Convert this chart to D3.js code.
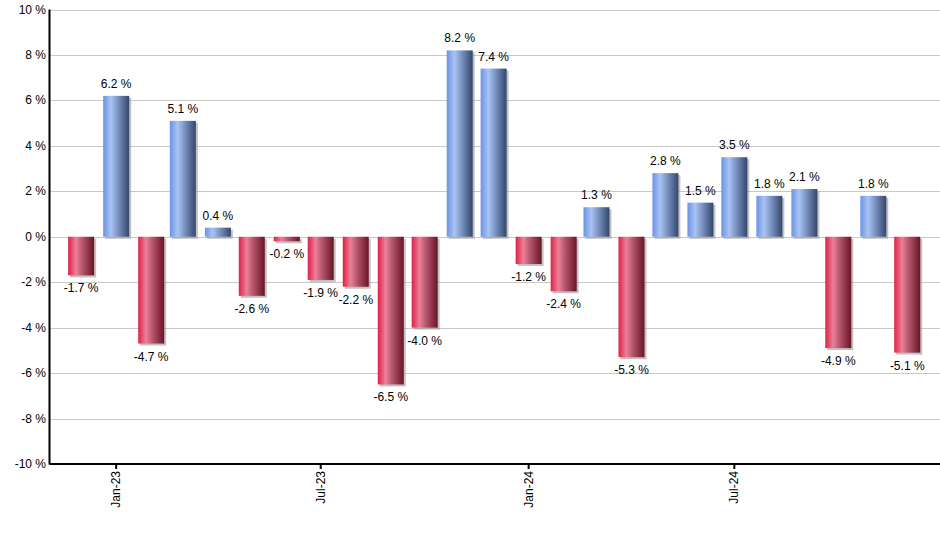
<!DOCTYPE html>
<html><head><meta charset="utf-8">
<script src="https://cdn.jsdelivr.net/npm/d3@7"></script>
<style>body{margin:0;background:#fff;} text{font-family:"Liberation Sans",Arial,sans-serif;}</style>
</head><body>
<svg id="c" width="940" height="550"></svg>
<script>
const months = ["2022-12","2023-01","2023-02","2023-03","2023-04","2023-05","2023-06","2023-07","2023-08","2023-09","2023-10","2023-11","2023-12","2024-01","2024-02","2024-03","2024-04","2024-05","2024-06","2024-07","2024-08","2024-09","2024-10","2024-11","2024-12"];
const values = [-1.7,6.2,-4.7,5.1,0.4,-2.6,-0.2,-1.9,-2.2,-6.5,-4.0,8.2,7.4,-1.2,-2.4,1.3,-5.3,2.8,1.5,3.5,1.8,2.1,-4.9,1.8,-5.1];
const yTicks = [-10,-8,-6,-4,-2,0,2,4,6,8,10];
const xTickDates = ["2023-01","2023-07","2024-01","2024-07"];

const parse = d3.timeParse("%Y-%m");
const data = months.map((m,i)=>({date:parse(m), v:values[i]}));
const svg = d3.select("#c");
const L=49.5, R=940, T=9.5, B=464;
const x = d3.scaleTime().domain([new Date(2022,10,3), new Date(2024,11,30)]).range([L,R]);
const y = d3.scaleLinear().domain([-10,10]).range([B,T]);
const bw = 26;

const defs = svg.append("defs");
function grad(id, stops){
  const g = defs.append("linearGradient").attr("id",id).attr("x1","0").attr("x2","1").attr("y1","0").attr("y2","0");
  stops.forEach(s=>g.append("stop").attr("offset",s[0]).attr("stop-color",s[1]));
}
grad("gb",[[0,"#6b93e6"],[0.3,"#a9c3f3"],[0.55,"#7d96c4"],[1,"#34476c"]]);
grad("gr",[[0,"#dc2148"],[0.3,"#ec8098"],[0.55,"#b4566c"],[1,"#6a1426"]]);

// grid
svg.append("g").selectAll("line").data(yTicks.filter(t=>t!==-10)).join("line")
  .attr("x1",L).attr("x2",R).attr("y1",d=>Math.round(y(d))+0.5).attr("y2",d=>Math.round(y(d))+0.5)
  .attr("stroke","#c8c8c8").attr("stroke-width",1);

// y axis labels
svg.append("g").selectAll("text").data(yTicks).join("text")
  .attr("x",46).attr("y",d=>y(d)+4).attr("text-anchor","end")
  .attr("font-size",12).attr("fill","#000").text(d=>d+" %");

// bars
const bars = svg.append("g");
bars.selectAll("rect.sh").data(data).join("rect").attr("class","sh")
  .attr("x",d=>x(d.date)-bw/2+2).attr("width",bw)
  .attr("y",d=>Math.min(y(d.v),y(0))+2).attr("height",d=>Math.abs(y(d.v)-y(0)))
  .attr("fill","#9a9a9a").attr("opacity",0.6);
bars.selectAll("rect.b").data(data).join("rect").attr("class","b")
  .attr("x",d=>x(d.date)-bw/2).attr("width",bw)
  .attr("y",d=>Math.min(y(d.v),y(0))).attr("height",d=>Math.abs(y(d.v)-y(0)))
  .attr("fill",d=>d.v>=0?"url(#gb)":"url(#gr)");

// value labels
svg.append("g").selectAll("text").data(data).join("text")
  .attr("x",d=>x(d.date)).attr("y",d=>d.v>=0?y(d.v)-8:y(d.v)+17)
  .attr("text-anchor","middle").attr("font-size",12).attr("fill","#000")
  .text(d=>d.v.toFixed(1)+" %");

// axes lines
svg.append("line").attr("x1",L).attr("x2",L).attr("y1",T).attr("y2",B+0.5).attr("stroke","#000").attr("stroke-width",2);
svg.append("line").attr("x1",L).attr("x2",R).attr("y1",B).attr("y2",B).attr("stroke","#000").attr("stroke-width",2);

// x ticks
const xt = svg.append("g").selectAll("g").data(xTickDates.map(parse)).join("g")
  .attr("transform",d=>`translate(${x(d)},${B})`);
xt.append("line").attr("y1",0).attr("y2",5).attr("stroke","#000").attr("stroke-width",2);
xt.append("text").attr("transform","rotate(-90)").attr("x",-7).attr("y",4)
  .attr("text-anchor","end").attr("font-size",12).attr("fill","#000")
  .text(d3.timeFormat("%b-%y"));
</script>
</body></html>
